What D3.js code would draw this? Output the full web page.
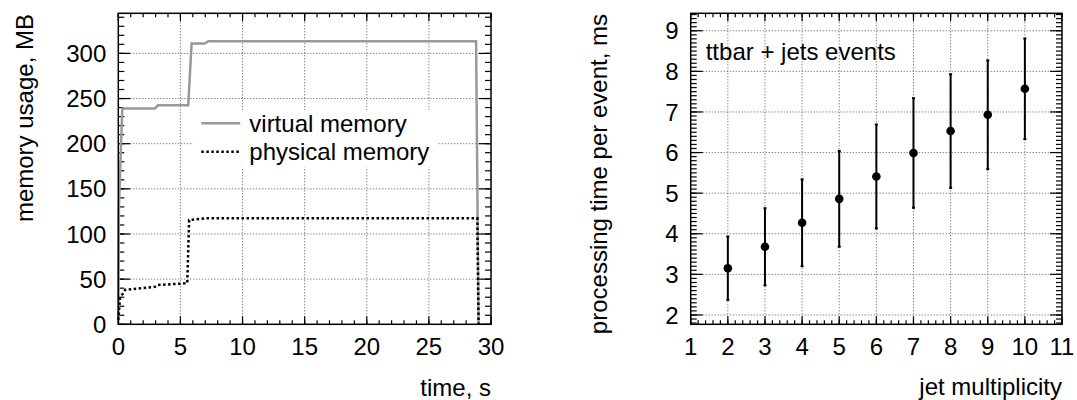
<!DOCTYPE html>
<html>
<head>
<meta charset="utf-8">
<script src="https://cdn.jsdelivr.net/npm/d3@7"></script>
<style>
  body { margin: 0; background: #fff; }
  svg { display: block; }
  text { font-family: "Liberation Sans", Arial, Helvetica, sans-serif; font-size: 24px; fill: #000; }
</style>
</head>
<body>
<svg id="chart" width="1077" height="400"></svg>
<script>
/*
  Memory usage vs time, processing time vs jet multiplicity
*/

// left panel data
var timeTicks = [0, 5, 10, 15, 20, 25, 30],
    memTicks = [0, 50, 100, 150, 200, 250, 300],
    virtualT = [0, 0.05, 0.32, 2.95, 3.2, 5.63, 5.9, 6.97, 7.24, 28.8, 29.0],
    virtualMB = [0, 128, 239, 239, 242.5, 242.5, 311, 311, 313.5, 313.5, 0],
    physT = [0, 0.14, 0.54, 2.95, 3.2, 5.55, 5.7, 7.1, 28.9, 29.0],
    physMB = [5, 29, 38, 41.5, 43.5, 45.5, 115.5, 117.5, 117.5, 0],
    legendLabels = ["virtual memory", "physical memory"];

// right panel data
var jets = [2, 3, 4, 5, 6, 7, 8, 9, 10],
    timeMs = [3.15, 3.68, 4.27, 4.86, 5.41, 5.99, 6.53, 6.93, 7.57],
    timeErr = [0.78, 0.95, 1.07, 1.18, 1.28, 1.35, 1.40, 1.34, 1.24],
    jetTicks = [1, 2, 3, 4, 5, 6, 7, 8, 9, 10, 11],
    msTicks = [2, 3, 4, 5, 6, 7, 8, 9];

var svg = d3.select("#chart");

function drawFrame(g, x, y, xTicks, xMinor, yTicks, yMinor, width, height){
  // grid
  g.append("g").selectAll("line.gx")
    .data(xTicks.filter(function(d){ return x(d) > 0.5 && x(d) < width - 0.5; }))
    .enter().append("line")
      .attr("x1", function(d){ return x(d); }).attr("x2", function(d){ return x(d); })
      .attr("y1", 0).attr("y2", height)
      .attr("stroke", "#555").attr("stroke-width", 1).attr("stroke-dasharray", "1,2");
  g.append("g").selectAll("line.gy")
    .data(yTicks.filter(function(d){ return y(d) > 0.5 && y(d) < height - 0.5; }))
    .enter().append("line")
      .attr("y1", function(d){ return y(d); }).attr("y2", function(d){ return y(d); })
      .attr("x1", 0).attr("x2", width)
      .attr("stroke", "#555").attr("stroke-width", 1).attr("stroke-dasharray", "1,2");

  // ticks inside on all four sides
  var t = g.append("g").attr("stroke", "#000").attr("stroke-width", 1.2);
  function xt(vals, len){
    vals.forEach(function(d){
      t.append("line").attr("x1", x(d)).attr("x2", x(d)).attr("y1", height).attr("y2", height - len);
      t.append("line").attr("x1", x(d)).attr("x2", x(d)).attr("y1", 0).attr("y2", len);
    });
  }
  function yt(vals, len){
    vals.forEach(function(d){
      t.append("line").attr("y1", y(d)).attr("y2", y(d)).attr("x1", 0).attr("x2", len);
      t.append("line").attr("y1", y(d)).attr("y2", y(d)).attr("x1", width).attr("x2", width - len);
    });
  }
  xt(xMinor, 4); xt(xTicks, 8);
  yt(yMinor, 6); yt(yTicks, 12);

  // tick labels
  g.append("g").selectAll("text")
    .data(xTicks)
    .enter().append("text")
      .attr("x", function(d){ return x(d); })
      .attr("y", height + 31)
      .attr("text-anchor", "middle")
      .text(function(d){ return d; });
  g.append("g").selectAll("text")
    .data(yTicks)
    .enter().append("text")
      .attr("x", -12)
      .attr("y", function(d){ return y(d); })
      .attr("dy", "0.36em")
      .attr("text-anchor", "end")
      .text(function(d){ return d; });
}

/* Left panel */
var m1 = {left: 118.3, top: 13.3, width: 372.7, height: 311},
    g1 = svg.append("g").attr("transform", "translate(" + m1.left + "," + m1.top + ")"),
    x1 = d3.scaleLinear().domain([0, 30]).range([0, m1.width]),
    y1 = d3.scaleLinear().domain([0, 344.4]).range([m1.height, 0]);

drawFrame(g1, x1, y1, timeTicks, d3.range(0, 31, 1), memTicks, d3.range(0, 341, 10), m1.width, m1.height);

// legend box hides the grid
var legX = 75, legY = 97;
g1.append("rect").attr("x", legX).attr("y", legY).attr("width", 244).attr("height", 57).attr("fill", "#fff");

var line1 = d3.line()
  .x(function(d){ return x1(d[0]); })
  .y(function(d){ return y1(d[1]); });

g1.append("path")
  .datum(d3.zip(virtualT, virtualMB))
  .attr("d", line1)
  .attr("fill", "none").attr("stroke", "#999").attr("stroke-width", 2.5);

g1.append("path")
  .datum(d3.zip(physT, physMB))
  .attr("d", line1)
  .attr("fill", "none").attr("stroke", "#000").attr("stroke-width", 2.5).attr("stroke-dasharray", "2.5,2.5");

// legend entries
g1.append("line").attr("x1", 83).attr("x2", 122).attr("y1", 110).attr("y2", 110)
  .attr("stroke", "#999").attr("stroke-width", 2.5);
g1.append("line").attr("x1", 83).attr("x2", 122).attr("y1", 138.5).attr("y2", 138.5)
  .attr("stroke", "#000").attr("stroke-width", 2.5).attr("stroke-dasharray", "2.5,2.5");
g1.selectAll("text.leg")
  .data(legendLabels)
  .enter().append("text")
    .attr("x", 131)
    .attr("y", function(d, i){ return 110 + i * 28.5; })
    .attr("dy", "0.36em")
    .text(function(d){ return d; });

g1.append("rect").attr("width", m1.width).attr("height", m1.height)
  .attr("fill", "none").attr("stroke", "#000").attr("stroke-width", 1.5);

// axis titles
svg.append("text")
  .attr("transform", "translate(33,14) rotate(-90)")
  .attr("text-anchor", "end")
  .text("memory usage, MB");
svg.append("text")
  .attr("x", m1.left + m1.width).attr("y", 396)
  .attr("text-anchor", "end")
  .text("time, s");

/* Right panel */
var m2 = {left: 690.7, top: 13.3, width: 371.3, height: 311},
    g2 = svg.append("g").attr("transform", "translate(" + m2.left + "," + m2.top + ")"),
    x2 = d3.scaleLinear().domain([1, 11]).range([0, m2.width]),
    y2 = d3.scaleLinear().domain([1.77, 9.43]).range([m2.height, 0]);

drawFrame(g2, x2, y2, jetTicks, d3.range(1, 11.01, 0.2), msTicks, d3.range(1.8, 9.41, 0.1), m2.width, m2.height);

g2.append("text").attr("x", 15).attr("y", 47).text("ttbar + jets events");

var pts = d3.zip(jets, timeMs, timeErr);
var eb = g2.append("g").attr("stroke", "#000").attr("stroke-width", 2);
eb.selectAll("line.err")
  .data(pts)
  .enter().append("line")
    .attr("x1", function(d){ return x2(d[0]); }).attr("x2", function(d){ return x2(d[0]); })
    .attr("y1", function(d){ return y2(d[1] + d[2]); })
    .attr("y2", function(d){ return y2(d[1] - d[2]); });
eb.selectAll("line.capTop")
  .data(pts)
  .enter().append("line")
    .attr("x1", function(d){ return x2(d[0]) - 1.5; }).attr("x2", function(d){ return x2(d[0]) + 1.5; })
    .attr("y1", function(d){ return y2(d[1] + d[2]); })
    .attr("y2", function(d){ return y2(d[1] + d[2]); });
eb.selectAll("line.capBot")
  .data(pts)
  .enter().append("line")
    .attr("x1", function(d){ return x2(d[0]) - 1.5; }).attr("x2", function(d){ return x2(d[0]) + 1.5; })
    .attr("y1", function(d){ return y2(d[1] - d[2]); })
    .attr("y2", function(d){ return y2(d[1] - d[2]); });

g2.selectAll("circle")
  .data(pts)
  .enter().append("circle")
    .attr("cx", function(d){ return x2(d[0]); })
    .attr("cy", function(d){ return y2(d[1]); })
    .attr("r", 4.3)
    .attr("fill", "#000");

g2.append("rect").attr("width", m2.width).attr("height", m2.height)
  .attr("fill", "none").attr("stroke", "#000").attr("stroke-width", 1.5);

svg.append("text")
  .attr("transform", "translate(607,14) rotate(-90)")
  .attr("text-anchor", "end")
  .text("processing time per event, ms");
svg.append("text")
  .attr("x", m2.left + m2.width).attr("y", 395)
  .attr("text-anchor", "end")
  .text("jet multiplicity");
</script>
</body>
</html>
